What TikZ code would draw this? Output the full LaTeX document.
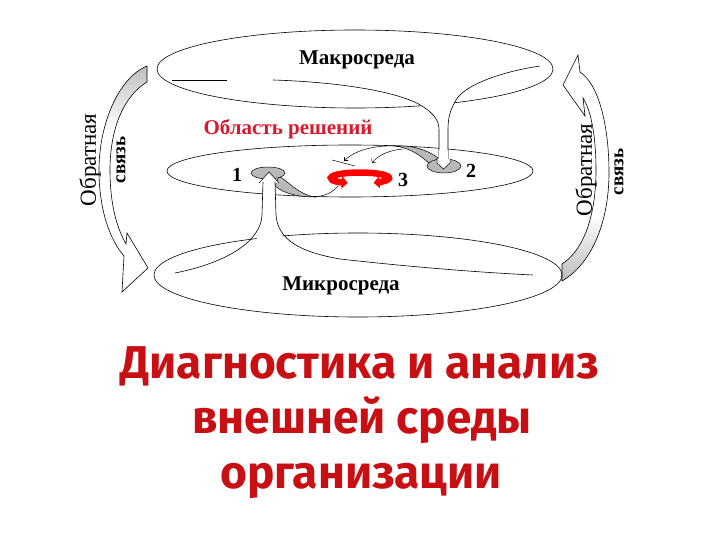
\documentclass[tikz,border=0pt]{standalone}
\usepackage{fontspec}
\setmainfont{Liberation Serif}
\newfontfamily\titlefont{Fira Sans}
\usetikzlibrary{arrows.meta,shapes.geometric}
\definecolor{lblred}{RGB}{215,25,45}
\definecolor{ttlred}{RGB}{200,16,20}
\definecolor{blobgray}{RGB}{185,185,185}
\def\LFBpath{(147,66) .. controls (118,78) and (99,125) .. (99,170) .. controls (99,210) and (110,240) .. (124,256) -- (122,292) -- (148,268) -- (127,233) -- (126,244) .. controls (117,228) and (110,205) .. (110,170) .. controls (110,128) and (124,96) .. (147,82) -- cycle}
\def\RFBpath{(562,264) .. controls (584,250) and (596,215) .. (596,170) .. controls (596,140) and (592,112) .. (583,98) -- (585,116) -- (563,85) -- (578,55) -- (580,72) .. controls (600,85) and (609,130) .. (609,172) .. controls (609,225) and (590,265) .. (562,281) -- cycle}
\begin{document}
\begin{tikzpicture}[x=1pt,y=-1pt,line width=0.6pt,
  env/.style={ellipse,draw,inner sep=0pt},
  lbl/.style={inner sep=0pt,font=\bfseries\fontsize{21}{21}\selectfont},
  num/.style={inner sep=0pt,font=\bfseries\fontsize{20}{20}\selectfont},
  fbbig/.style={inner sep=0pt,rotate=90,font=\fontsize{23}{23}\selectfont},
  fbsmall/.style={inner sep=0pt,rotate=90,font=\bfseries\fontsize{19}{19}\selectfont},
  ttl/.style={inner sep=0pt,anchor=base,text=ttlred,font=\titlefont\bfseries\fontsize{46}{46}\selectfont},
  blob/.style={draw,fill=blobgray,line width=0.5pt},
  thinarr/.style={line width=0.5pt,-{Straight Barb[length=3pt,width=6pt]}}]
\useasboundingbox[fill=white] (0,0) rectangle (720,540);

% feedback arrows
\fill[white] \LFBpath;
\begin{scope}\clip \LFBpath; \shade[top color=blobgray,bottom color=white] (90,60) rectangle (150,130); \end{scope}
\draw \LFBpath;
\fill[white] \RFBpath;
\begin{scope}\clip \RFBpath; \shade[top color=white,bottom color=blobgray] (555,215) rectangle (615,285); \end{scope}
\draw \RFBpath;

% environments
\node[env,minimum width=396,minimum height=78] (macro) at (355,69) {};
\node[env,minimum width=366,minimum height=52] (area) at (350,171) {};
\node[env,minimum width=408,minimum height=84] (micro) at (358,275) {};

% funnel from macro to 2
\fill[white] (405,99) .. controls (415,101) and (420,104) .. (422,106) .. controls (436,115) and (439,122) .. (439,130) -- (439,161) -- (448,161) -- (448,130) .. controls (448,120) and (449,112) .. (456,100) .. controls (462,92) and (470,88) .. (480,84) -- cycle;
\draw (172,80) -- (227,80);
\draw (273,80) .. controls (340,82) and (400,92) .. (422,106) .. controls (436,115) and (439,122) .. (439,130) -- (439,160);
\draw (540,66) .. controls (500,72) and (465,85) .. (456,100) .. controls (449,112) and (448,120) .. (448,130) -- (448,160);

% ribbon from 2 towards 3
\draw[blob] (430,164) .. controls (420,155) and (410,148) .. (395,146) .. controls (412,145) and (428,150) .. (438,158) -- cycle;
\draw[blob] (444,166) ellipse [x radius=17, y radius=7];
\draw[fill=white,line width=0.5pt] (437,159) -- (437,163) -- (443.5,169) -- (450,163) -- (450,159);
\fill[white] (439.3,150) rectangle (447.7,161);
\draw[thinarr] (397,146) .. controls (375,145) and (355,150) .. (344,161);
\draw[thinarr] (403,149) .. controls (390,150) and (378,155) .. (372,163);
\draw[line width=0.5pt] (332,160) -- (355,166);

% funnel from micro to 1
\draw[blob] (279,176) .. controls (290,183) and (297,193) .. (314,197) .. controls (300,197) and (284,194) .. (275,186) -- cycle;
\draw[line width=0.5pt] (314,197) .. controls (326,196) and (333,192) .. (338,186);
\draw[blob] (268,173) ellipse [x radius=17, y radius=6];
\fill[white] (263,180) -- (262,215) .. controls (261,228) and (259,235) .. (254,244) -- (300,250) .. controls (285,244) and (277,232) .. (276,215) -- (275,180) -- cycle;
\draw[fill=white,line width=0.5pt] (259,183) -- (269,172) -- (279,183);
\fill[white] (263.3,181) rectangle (274.7,186);
\draw (263,182) -- (262,215) .. controls (261,240) and (230,262) .. (175,273);
\draw (275,182) -- (276,215) .. controls (278,240) and (300,252) .. (340,259) .. controls (420,268) and (490,273) .. (533,275);

% red cycle arrow at 3
\begin{scope}[shift={(360,178)},y=1pt]
\draw[red,line width=6.5pt,{Triangle[width=12pt,length=6pt]}-{Triangle[width=12pt,length=6pt]}] (245:29 and 5.5) arc[start angle=245,end angle=-62,x radius=29,y radius=5.5];
\end{scope}

% texts
\node[lbl] (macroT) at (357,60) {Макросреда};
\node[lbl,text=lblred] (areaT) at (288,129) {Область решений};
\node[lbl] (microT) at (341,286) {Микросреда};
\node[num] (n1) at (237,175) {1};
\node[num] (n2) at (471,171) {2};
\node[num] (n3) at (403,180) {3};
\node[fbbig] (fbL1) at (90,160) {Обратная};
\node[fbsmall] (fbL2) at (121,160) {связь};
\node[fbbig] (fbR1) at (586,170) {Обратная};
\node[fbsmall] (fbR2) at (619,172) {связь};

\node[ttl] (t1) at (360,378) {Диагностика и анализ};
\node[ttl] (t2) at (362,433) {внешней среды};
\node[ttl] (t3) at (361,488) {организации};
\end{tikzpicture}
\end{document}
